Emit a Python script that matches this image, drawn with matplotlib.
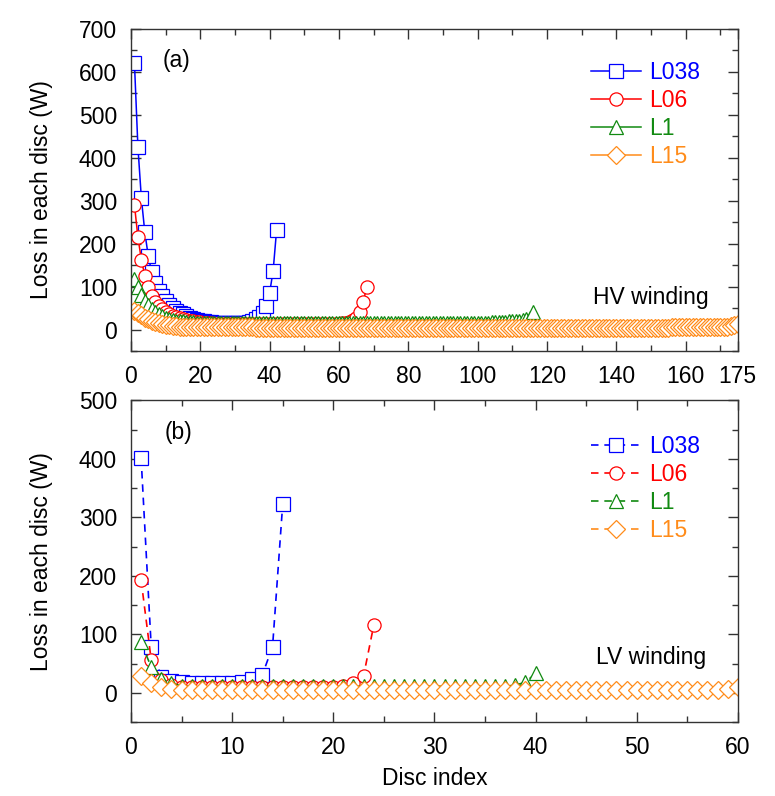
import numpy as np
import matplotlib
matplotlib.use('Agg')
import matplotlib.pyplot as plt
from matplotlib.ticker import MultipleLocator, FixedLocator

plt.rcParams['font.family'] = ['Liberation Sans', 'DejaVu Sans']

# ================= data: loss per disc (W) =================
series_names = ['L038', 'L06', 'L1', 'L15']

# HV winding (175 discs max)
hv_L038 = [620, 425, 305, 226, 170, 133, 108, 90, 77, 66,
           57, 50, 44, 39, 35, 31, 28, 25, 23, 21,
           19, 18, 17, 16, 15, 15, 15, 15, 15, 15,
           15, 15, 16, 17, 20, 24, 30, 38, 54, 86,
           137, 232]
hv_L06 = [290, 215, 162, 125, 98, 79, 65, 55, 47, 41,
          36, 32, 29, 26, 24, 22, 20, 19, 18, 17,
          16, 15, 15, 14, 14, 14, 13, 13, 13, 13,
          13, 13, 13, 13, 13, 13, 13, 13, 13, 13,
          13, 13, 13, 13, 13, 13, 13, 13, 13, 13,
          13, 13, 13, 13, 13, 13, 13, 13, 14, 14,
          15, 16, 18, 22, 28, 40, 65, 100]
hv_L1 = [118, 98, 80, 67, 56, 47, 40, 35, 31, 28,
         25, 23, 21, 20, 19, 18, 17, 17, 16, 16,
         16, 16, 16, 16, 16, 16, 16, 16, 16, 16,
         16, 16, 16, 16, 16, 16, 16, 16, 16, 16,
         16, 16, 16, 16, 16, 16, 16, 16, 16, 16,
         16, 16, 16, 16, 16, 16, 16, 16, 16, 16,
         16, 16, 16, 16, 16, 16, 16, 16, 16, 16,
         16, 16, 16, 16, 16, 16, 16, 16, 16, 16,
         16, 16, 16, 16, 16, 16, 16, 16, 16, 16,
         16, 16, 16, 16, 16, 16, 16, 16, 16, 16,
         16, 16, 16, 17, 17, 17, 18, 18, 19, 19,
         20, 21, 22, 24, 27, 40]
hv_L15 = [44, 38, 33, 28, 24, 20, 17, 15, 13, 11,
          10, 9, 8, 7, 7, 6, 6, 5, 5, 5,
          5, 5, 5, 5, 5, 5, 5, 5, 5, 5, 5, 5, 5, 5, 5,
          4, 4, 4, 4, 4, 4, 4, 4, 4, 4, 4, 4, 4, 4, 4,
          4, 4, 4, 4, 4, 4, 4, 4, 4, 4, 4, 4, 4, 4, 4,
          4, 4, 4, 4, 4, 4, 4, 4, 4, 4, 4, 4, 4, 4, 4,
          4, 4, 4, 4, 4, 4, 4, 4, 4, 4, 4, 4, 4, 4, 4,
          4, 4, 4, 4, 4, 4, 4, 4, 4, 4, 4, 4, 4, 4, 4,
          4, 4, 4, 4, 4, 4, 4, 4, 4, 4, 4, 4, 4, 4, 4,
          4, 4, 4, 4, 4, 4, 4, 4, 4, 4, 4, 4, 4, 4, 4,
          4, 4, 4, 4, 4, 4, 4, 4, 4, 4, 4, 4, 4, 4, 4,
          5, 5, 5, 5, 5, 5, 5, 5, 5, 5, 5, 5, 5, 5, 5,
          5, 6, 8, 10, 14]

# LV winding (60 discs max)
lv_L038 = [402, 79, 27, 20, 18, 17, 17, 17, 17, 17,
           19, 24, 31, 79, 322]
lv_L06 = [193, 56, 22, 14, 10, 9, 9, 9, 9, 9,
          9, 9, 9, 9, 9, 9, 9, 9, 9, 9,
          11, 16, 29, 115]
lv_L1 = [86, 44, 24, 16, 12, 11, 11, 11, 11, 11,
         11, 11, 11, 11, 11, 11, 11, 11, 11, 11,
         11, 11, 11, 11, 11, 11, 11, 11, 11, 11,
         11, 11, 11, 11, 11, 11, 11, 13, 18, 33]
lv_L15 = [28, 17, 9, 6, 5, 4, 4, 4, 4, 4,
          4, 4, 4, 4, 4, 4, 4, 4, 4, 4,
          4, 4, 4, 4, 4, 4, 4, 4, 4, 4,
          4, 4, 4, 4, 4, 4, 4, 4, 4, 4,
          4, 4, 4, 4, 4, 4, 4, 4, 4, 4,
          4, 4, 4, 4, 4, 4, 4, 5, 7, 10]

hv_data = [hv_L038, hv_L06, hv_L1, hv_L15]
lv_data = [lv_L038, lv_L06, lv_L1, lv_L15]

colors = ['#0000ff', '#ff0000', '#118a11', '#ff8c1a']
markers = ['s', 'o', '^', 'D']
msizes = [9.5, 9.5, 10, 9.5]

hv_xticks = [0, 20, 40, 60, 80, 100, 120, 140, 160, 175]

# ================= plotting =================
fig = plt.figure(figsize=(7.75, 7.96), dpi=100)
ax1 = fig.add_axes([0.169, 0.559, 0.783, 0.405])
ax2 = fig.add_axes([0.169, 0.093, 0.783, 0.404])

for vals, name, c, m, ms in zip(hv_data, series_names, colors, markers, msizes):
    x = np.arange(1, len(vals) + 1)
    ax1.plot(x, vals, color=c, lw=1.1, marker=m, ms=ms, mfc='white',
             mec=c, mew=0.9, label=name)

for vals, name, c, m, ms in zip(lv_data, series_names, colors, markers, msizes):
    x = np.arange(1, len(vals) + 1)
    ax2.plot(x, vals, color=c, lw=1.2, ls=(0, (4.5, 3.5)), marker=m, ms=ms,
             mfc='white', mec=c, mew=0.9, label=name)

ax1.set_xlim(0, 175)
ax1.set_ylim(-50, 700)
ax1.xaxis.set_major_locator(FixedLocator(hv_xticks))
ax1.xaxis.set_minor_locator(MultipleLocator(10))
ax1.yaxis.set_major_locator(MultipleLocator(100))
ax1.yaxis.set_minor_locator(MultipleLocator(50))

ax2.set_xlim(0, 60)
ax2.set_ylim(-50, 500)
ax2.xaxis.set_major_locator(MultipleLocator(10))
ax2.xaxis.set_minor_locator(MultipleLocator(5))
ax2.yaxis.set_major_locator(MultipleLocator(100))
ax2.yaxis.set_minor_locator(MultipleLocator(50))

for ax in (ax1, ax2):
    ax.tick_params(which='both', direction='in', top=True, right=True,
                   colors='#333333', labelcolor='black', labelsize=16.5, pad=10)
    ax.tick_params(which='major', length=7, width=1)
    ax.tick_params(which='minor', length=4.5, width=1)
    for sp in ax.spines.values():
        sp.set_color('#333333')
        sp.set_linewidth(1)
    ax.set_ylabel('Loss in each disc (W)', fontsize=16.5)
    ax.yaxis.set_label_coords(-0.128, 0.5)

ax2.set_xlabel('Disc index', fontsize=16.5, labelpad=6)

ax1.text(0.052, 0.9, '(a)', transform=ax1.transAxes, fontsize=16.5, va='center')
ax2.text(0.055, 0.9, '(b)', transform=ax2.transAxes, fontsize=16.5, va='center')
ax1.text(0.952, 0.167, 'HV winding', transform=ax1.transAxes, fontsize=16.5,
         ha='right', va='center')
ax2.text(0.948, 0.2, 'LV winding', transform=ax2.transAxes, fontsize=16.5,
         ha='right', va='center')

for ax, y0 in ((ax1, 0.9), (ax2, 0.893)):
    leg = ax.legend(loc='upper left', bbox_to_anchor=(0.758, y0), frameon=False,
                    fontsize=16.5, handlelength=2.2, handletextpad=0.35,
                    labelspacing=0.22, borderpad=0, borderaxespad=0)
    for txt, c in zip(leg.get_texts(), colors):
        txt.set_color(c)

fig.savefig('out.png', dpi=100)
